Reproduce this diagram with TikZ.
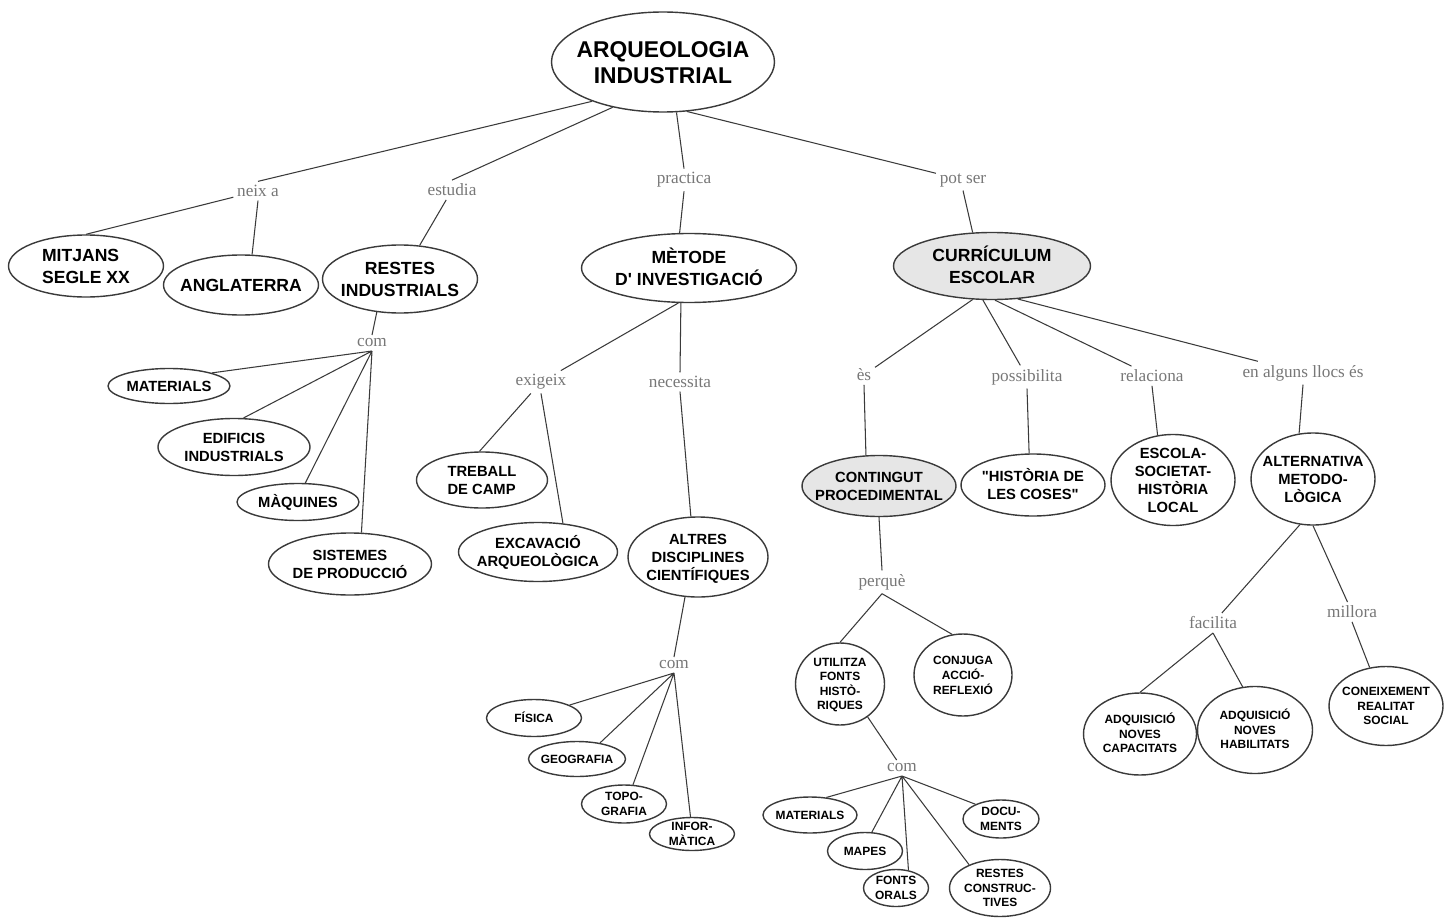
\documentclass[tikz,border=0pt]{standalone}
\usepackage{fontspec}
\setmainfont{Liberation Serif}
\setsansfont{Liberation Sans}
\usetikzlibrary{shapes.geometric}

\definecolor{linegray}{HTML}{3A3A3A}
\definecolor{labelgray}{HTML}{777777}
\definecolor{shadegray}{HTML}{E6E6E6}

\newcommand\rootfont{\sffamily\bfseries\fontsize{13}{15}\selectfont}
\newcommand\topfont{\sffamily\bfseries\fontsize{10}{12.4}\selectfont}
\newcommand\midfont{\sffamily\bfseries\fontsize{8.4}{10.3}\selectfont}
\newcommand\lowfont{\sffamily\bfseries\fontsize{6.8}{8.2}\selectfont}
\newcommand\linkfont{\rmfamily\fontsize{9.8}{11}\selectfont}
\newcommand\inell[2][c]{\makebox[0pt]{\smash{\raisebox{-.36em}{\begin{tabular}[c]{@{}#1@{}}#2\end{tabular}}}}}

\begin{document}
\begin{tikzpicture}
[
    x=0.02cm, y=-0.02cm,
    concept/.style={ellipse, draw=linegray, line width=0.8pt, inner sep=0pt, text=black},
    shaded/.style={fill=shadegray},
    sz/.style 2 args={minimum width=#1*0.02cm, minimum height=#2*0.02cm},
    c0/.style={concept, font=\rootfont},
    c1/.style={concept, font=\topfont},
    c2/.style={concept, font=\midfont},
    c3/.style={concept, font=\lowfont},
    link/.style={font=\linkfont, text=labelgray, inner sep=2pt},
    conn/.style={draw=linegray, line width=0.6pt},
]
\useasboundingbox (0,0) rectangle (1453,919);

\node[c0, sz={223}{100}] (root) at (663,62) {\inell{ARQUEOLOGIA\\INDUSTRIAL}};

\node[link] (neix) at (258,191) {neix a};
\node[link] (estud) at (452,190) {estudia};
\node[link] (pract) at (684,180) {practica};
\node[link] (potser) at (963,180) {pot ser};

\node[c1, sz={155}{62}] (mitj) at (86,266) {\inell[l]{MITJANS\\SEGLE XX}};
\node[c1, sz={155}{60}] (angla) at (241,285) {\inell{ANGLATERRA}};
\node[c1, sz={155}{68}] (restes) at (400,279) {\inell{RESTES\\INDUSTRIALS}};
\node[c1, sz={215}{69}] (metode) at (689,268) {\inell{MÈTODE\\D\textquotesingle{} INVESTIGACIÓ}};
\node[c1, shaded, sz={197}{67}] (curr) at (992,266) {\inell{CURRÍCULUM\\ESCOLAR}};

\node[link] (com1) at (372,343) {com};
\node[c2, sz={122}{35}] (mat1) at (169,386) {\inell{MATERIALS}};
\node[c2, sz={152}{57}] (edif) at (234,447) {\inell{EDIFICIS\\INDUSTRIALS}};
\node[c2, sz={122}{37}] (maq) at (298,502) {\inell{MÀQUINES}};
\node[c2, sz={163}{62}] (sist) at (350,564) {\inell{SISTEMES\\DE PRODUCCIÓ}};

\node[link] (exig) at (541,382) {exigeix};
\node[link] (neces) at (680,382) {necessita};
\node[c2, sz={131}{56}] (treb) at (482,480) {\inell[l]{TREBALL\\DE CAMP}};
\node[c2, sz={159}{59}] (excav) at (538,552) {\inell{EXCAVACIÓ\\ARQUEOLÒGICA}};
\node[c2, sz={140}{80}] (altres) at (698,557) {\inell{ALTRES\\DISCIPLINES\\CIENTÍFIQUES}};

\node[link] (com2) at (674,665) {com};
\node[c3, sz={95}{37}] (fis) at (534,718) {\inell{FÍSICA}};
\node[c3, sz={97}{35}] (geo) at (577,759) {\inell{GEOGRAFIA}};
\node[c3, sz={85}{38}] (topo) at (624,804) {\inell{TOPO-\\GRAFIA}};
\node[c3, sz={85}{33}] (info) at (692,834) {\inell{INFOR-\\MÀTICA}};

\node[link] (es) at (864,375) {ès};
\node[link] (possib) at (1027,377) {possibilita};
\node[link] (relac) at (1152,376) {relaciona};
\node[link] (enalg) at (1303,373) {en alguns llocs és};

\node[c2, shaded, sz={154}{61}] (cont) at (879,486) {\inell{CONTINGUT\\PROCEDIMENTAL}};
\node[c2, sz={144}{62}] (hist) at (1033,485) {\inell{\textquotedbl HISTÒRIA DE\\LES COSES\textquotedbl}};
\node[c2, sz={124}{91}] (escola) at (1173,480) {\inell{ESCOLA-\\SOCIETAT-\\HISTÒRIA\\LOCAL}};
\node[c2, sz={124}{92}] (alter) at (1313,479) {\inell{ALTERNATIVA\\METODO-\\LÒGICA}};

\node[link] (perq) at (882,582) {perquè};
\node[c3, sz={89}{82}] (util) at (840,684) {\inell{UTILITZA\\FONTS\\HISTÒ-\\RIQUES}};
\node[c3, sz={98}{82}] (conj) at (963,675) {\inell{CONJUGA\\ACCIÓ-\\REFLEXIÓ}};

\node[link] (com3) at (902,768) {com};
\node[c3, sz={94}{36}] (mat2) at (810,815) {\inell{MATERIALS}};
\node[c3, sz={75}{37}] (mapes) at (865,851) {\inell{MAPES}};
\node[c3, sz={65}{37}] (fonts) at (896,888) {\inell{FONTS\\ORALS}};
\node[c3, sz={101}{57}] (rest2) at (1000,888) {\inell{RESTES\\CONSTRUC-\\TIVES}};
\node[c3, sz={76}{38}] (docs) at (1001,819) {\inell{DOCU-\\MENTS}};

\node[link] (facil) at (1213,623) {facilita};
\node[link] (millo) at (1352,612) {millora};
\node[c3, sz={113}{82}] (adq1) at (1140,734) {\inell{ADQUISICIÓ\\NOVES\\CAPACITATS}};
\node[c3, sz={115}{87}] (adq2) at (1255,730) {\inell{ADQUISICIÓ\\NOVES\\HABILITATS}};
\node[c3, sz={114}{79}] (conei) at (1386,706) {\inell{CONEIXEMENT\\REALITAT\\SOCIAL}};

\path[conn] (root.209) -- (neix.north)
            (root.222) -- (estud.north)
            (root.285) -- (pract.north)
            (root.-64) -- (potser);
\path[conn] (neix) -- (mitj.north)
            (neix.south) -- (angla.70)
            (estud) -- (restes)
            (pract.south) -- (metode.105)
            (potser.south) -- (curr.120);
\path[conn] (restes.235) -- (com1.north)
            (com1.south) -- (mat1.17)
            (com1.south) -- (edif.72)
            (com1.south) -- (maq.69)
            (com1.south) -- (sist.70);
\path[conn] (metode.253) -- (exig)
            (metode.257) -- (neces.north)
            (exig) -- (treb.95)
            (exig.south) -- (excav.49)
            (neces.south) -- (altres.100)
            (altres.252) -- (com2.north)
            (com2.south) -- (fis.20)
            (com2.south) -- (geo.35)
            (com2.south) -- (topo.65)
            (com2.south) -- (info.95);
\path[conn] (curr.240) -- (es)
            (curr.255) -- (possib)
            (curr.275) -- (relac)
            (curr.308) -- (enalg)
            (es.south) -- (cont.113)
            (possib.south) -- (hist.97)
            (relac.south) -- (escola.109)
            (enalg.south) -- (alter.107);
\path[conn] (cont.south) -- (perq.north)
            (perq.south) -- (util.north)
            (perq.south) -- (conj.105)
            (util.-50) -- (com3)
            (com3.south) -- (mat2.47)
            (com3.south) -- (mapes.70)
            (com3.south) -- (fonts.55)
            (com3.south) -- (rest2.143)
            (com3.south) -- (docs.150);
\path[conn] (alter.254) -- (facil)
            (alter.south) -- (millo)
            (facil.south) -- (adq1.north)
            (facil.south) -- (adq2.106)
            (millo.south) -- (conei.113);
\end{tikzpicture}
\end{document}
